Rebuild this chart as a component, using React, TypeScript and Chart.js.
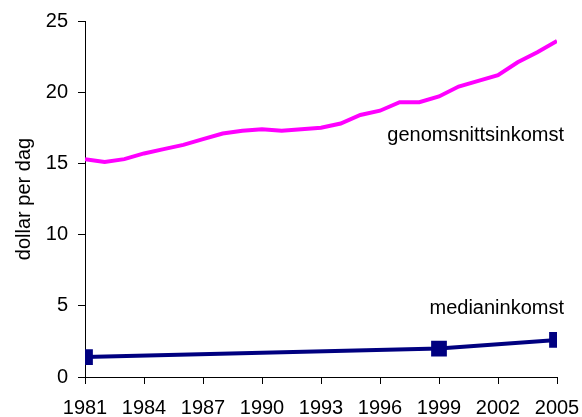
import React, { useEffect, useRef } from "react";
import { Chart, registerables } from "chart.js";

Chart.register(...registerables);

const years = [1981, 1982, 1983, 1984, 1985, 1986, 1987, 1988, 1989, 1990, 1991, 1992, 1993, 1994, 1995, 1996, 1997, 1998, 1999, 2000, 2001, 2002, 2003, 2004, 2005];
const meanIncome = [15.3, 15.1, 15.3, 15.7, 16.0, 16.3, 16.7, 17.1, 17.3, 17.4, 17.3, 17.4, 17.5, 17.8, 18.4, 18.7, 19.3, 19.3, 19.7, 20.4, 20.8, 21.2, 22.1, 22.8, 23.6];
const medianYears = [1981, 1999, 2005];
const medianIncome = [1.4, 2.0, 2.6];
const meanLabel = "genomsnittsinkomst";
const medianLabel = "medianinkomst";
const yTitle = "dollar per dag";

const FONT = "'Liberation Sans', Arial, sans-serif";

const labelPlugin = {
  id: "seriesLabels",
  afterDatasetsDraw(chart: any) {
    const { ctx, scales } = chart;
    const x = scales.x.getPixelForValue(2005) + 7;
    ctx.save();
    ctx.font = `20px ${FONT}`;
    ctx.fillStyle = "#000";
    ctx.textAlign = "right";
    ctx.textBaseline = "alphabetic";
    ctx.fillText(meanLabel, x, scales.y.getPixelForValue(16.6));
    ctx.fillText(medianLabel, x, scales.y.getPixelForValue(4.4));
    ctx.restore();
  },
};

export default function App() {
  const ref = useRef<HTMLCanvasElement>(null);
  useEffect(() => {
    const chart = new Chart(ref.current!, {
      type: "line",
      data: {
        datasets: [
          {
            label: meanLabel,
            data: years.map((y, i) => ({ x: y, y: meanIncome[i] })),
            borderColor: "#FF00FF",
            backgroundColor: "#FF00FF",
            borderWidth: 4,
            pointRadius: 0,
            tension: 0,
          },
          {
            label: medianLabel,
            data: medianYears.map((y, i) => ({ x: y, y: medianIncome[i] })),
            borderColor: "#000080",
            backgroundColor: "#000080",
            borderWidth: 4,
            pointStyle: "rect",
            pointRadius: 8.3,
            tension: 0,
          },
        ],
      },
      options: {
        responsive: false,
        animation: false,
        layout: { padding: { left: 0, right: 25, top: 21, bottom: 0 } },
        plugins: { legend: { display: false }, tooltip: { enabled: false } },
        scales: {
          x: {
            type: "linear",
            min: 1981,
            max: 2005,
            afterFit: (s: any) => { s.height = 40; s.paddingLeft = 0; s.paddingRight = 0; },
            afterBuildTicks: (s: any) => {
              s.ticks = years.filter((y) => (y - 1981) % 3 === 0).map((v) => ({ value: v }));
            },
            ticks: {
              color: "#000",
              font: { family: FONT, size: 20 },
              padding: 12,
              maxRotation: 0,
              autoSkip: false,
              callback: (v: any) => String(v),
            },
            grid: { drawOnChartArea: false, drawTicks: true, tickLength: 7, color: "#000" },
            border: { display: true, color: "#000", width: 1 },
          },
          y: {
            min: 0,
            max: 25,
            afterFit: (s: any) => { s.width = 85; s.paddingTop = 0; s.paddingBottom = 0; },
            ticks: {
              stepSize: 5,
              color: "#000",
              font: { family: FONT, size: 20 },
              padding: 10,
            },
            title: {
              display: true,
              text: yTitle,
              color: "#000",
              font: { family: FONT, size: 20 },
              padding: { top: 12, bottom: 0 },
            },
            grid: { drawOnChartArea: false, drawTicks: true, tickLength: 7, color: "#000" },
            border: { display: true, color: "#000", width: 1 },
          },
        },
      },
      plugins: [labelPlugin],
    });
    return () => chart.destroy();
  }, []);
  return (
    <div style={{ position: "fixed", left: 0, top: 0, width: 582, height: 417, background: "#fff" }}>
      <canvas ref={ref} width={582} height={417} style={{ display: "block" }} />
    </div>
  );
}
